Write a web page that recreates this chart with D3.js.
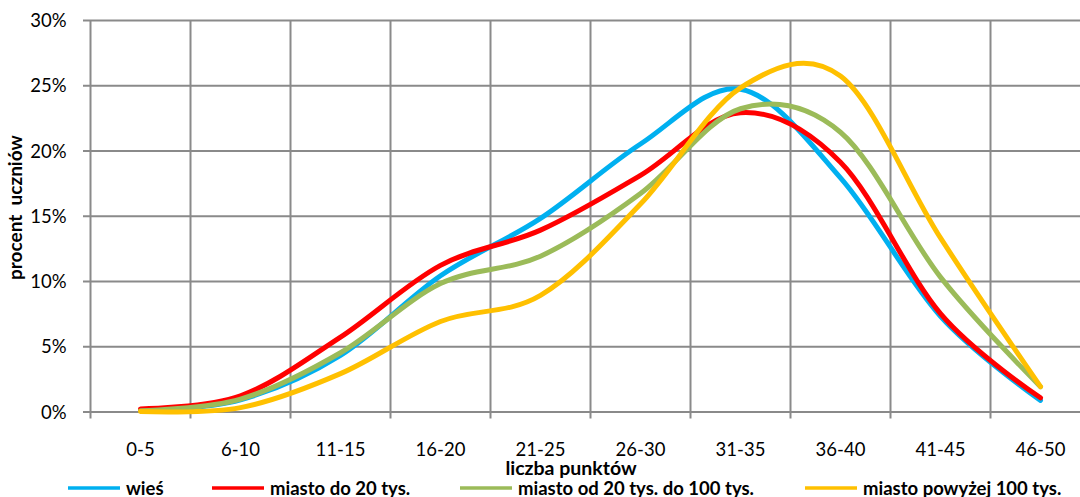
<!DOCTYPE html>
<html>
<head>
<meta charset="utf-8">
<script src="https://cdn.jsdelivr.net/npm/d3@7/dist/d3.min.js"></script>
<style>
  html, body { margin: 0; padding: 0; background: #fff; }
  svg { display: block; }
  text { font-family: Lato, "Open Sans", sans-serif; fill: #000; }
</style>
</head>
<body>
<svg id="chart" width="1080" height="497"></svg>
<script>
// Score ranges (x axis categories)
const categories = ["0-5", "6-10", "11-15", "16-20", "21-25", "26-30", "31-35", "36-40", "41-45", "46-50"];

// Percentage of pupils in each score range, by place of residence
const wies        = [0.05, 0.9, 4.3, 10.4, 14.8, 20.5, 24.7, 17.9, 7.3, 0.85];
const miastoDo20  = [0.2, 1.2, 5.7, 11.2, 13.9, 18.1, 22.9, 19.1, 7.5, 1.05];
const miasto20100 = [0.05, 0.95, 4.5, 9.8, 11.9, 16.7, 23.2, 21.4, 10.3, 1.9];
const miasto100   = [0.0, 0.3, 2.9, 6.9, 8.9, 15.9, 24.8, 25.7, 13.3, 1.9];

const seriesNames  = ["wieś", "miasto do 20 tys.", "miasto od 20 tys. do 100 tys.", "miasto powyżej 100 tys."];
const seriesValues = [wies, miastoDo20, miasto20100, miasto100];
const seriesColors = ["#00B0F0", "#FF0000", "#9BBB59", "#FFC000"];

const yTicks = [0, 5, 10, 15, 20, 25, 30];

const svg = d3.select("#chart");

const plot = { left: 90.5, right: 1090.5, top: 20, bottom: 411.5 };

const x = d3.scaleBand().domain(categories).range([plot.left, plot.right]).padding(0);
const y = d3.scaleLinear().domain([0, 30]).range([plot.bottom, plot.top]);

const gridColor = "#8a8a8a";

// Horizontal gridlines with short tick stubs on the left
const yAxis = d3.axisLeft(y)
  .tickValues(yTicks)
  .tickSize(-(plot.right - plot.left) - 7.5)
  .tickPadding(16)
  .tickFormat(d => d + "%");

const gy = svg.append("g")
  .attr("transform", `translate(${plot.left - 7.5},0)`)
  .call(yAxis);
gy.select(".domain").remove();
gy.selectAll(".tick line")
  .attr("stroke", gridColor).attr("stroke-width", 2);
gy.selectAll(".tick text")
  .attr("x", -16 + 7.5 - 8)
  .attr("dy", "0.36em")
  .style("font-size", "18.5px")
  .style("font-family", "Lato, sans-serif");

// Vertical gridlines at category boundaries, extending below the axis as ticks
const boundaries = categories.map(c => x(c)).concat([x(categories[categories.length - 1]) + x.bandwidth()]);
svg.append("g").selectAll("line")
  .data(boundaries)
  .join("line")
  .attr("x1", d => d).attr("x2", d => d)
  .attr("y1", plot.top).attr("y2", plot.bottom + 7)
  .attr("stroke", gridColor).attr("stroke-width", 2);

// Category labels
const gx = svg.append("g")
  .attr("transform", `translate(0,${plot.bottom})`)
  .call(d3.axisBottom(x).tickSize(0).tickPadding(0));
gx.select(".domain").remove();
gx.selectAll(".tick text")
  .attr("y", 44.5).attr("dy", 0)
  .style("font-size", "18.5px")
  .style("font-family", "Lato, sans-serif");

// Smoothed series lines
const line = d3.line()
  .x((d, i) => x(categories[i]) + x.bandwidth() / 2)
  .y(d => y(d))
  .curve(d3.curveCatmullRom.alpha(0));

svg.append("g").selectAll("path")
  .data(seriesValues)
  .join("path")
  .attr("d", d => line(d))
  .attr("fill", "none")
  .attr("stroke", (d, i) => seriesColors[i])
  .attr("stroke-width", 5)
  .attr("stroke-linecap", "round")
  .attr("stroke-linejoin", "round");

// Axis titles
svg.append("text")
  .attr("x", 571).attr("y", 475)
  .attr("text-anchor", "middle")
  .style("font-size", "19.5px").style("font-weight", "bold")
  .text("liczba punktów");

svg.append("text")
  .attr("transform", "translate(22,280) rotate(-90)")
  .attr("text-anchor", "start")
  .attr("xml:space", "preserve")
  .style("white-space", "pre")
  .style("font-size", "19px").style("font-weight", "bold")
  .text("procent  uczniów");

// Legend
const legendX = [68, 212, 460, 805];
const legend = svg.append("g").selectAll("g")
  .data(seriesNames)
  .join("g")
  .attr("transform", (d, i) => `translate(${legendX[i]},488)`);
legend.append("line")
  .attr("x1", 0).attr("x2", 52).attr("y1", 0).attr("y2", 0)
  .attr("stroke", (d, i) => seriesColors[i])
  .attr("stroke-width", 3.5);
legend.append("text")
  .attr("x", 58).attr("y", 6.5)
  .style("font-size", "18.5px").style("font-weight", "bold")
  .text(d => d);
</script>
</body>
</html>
